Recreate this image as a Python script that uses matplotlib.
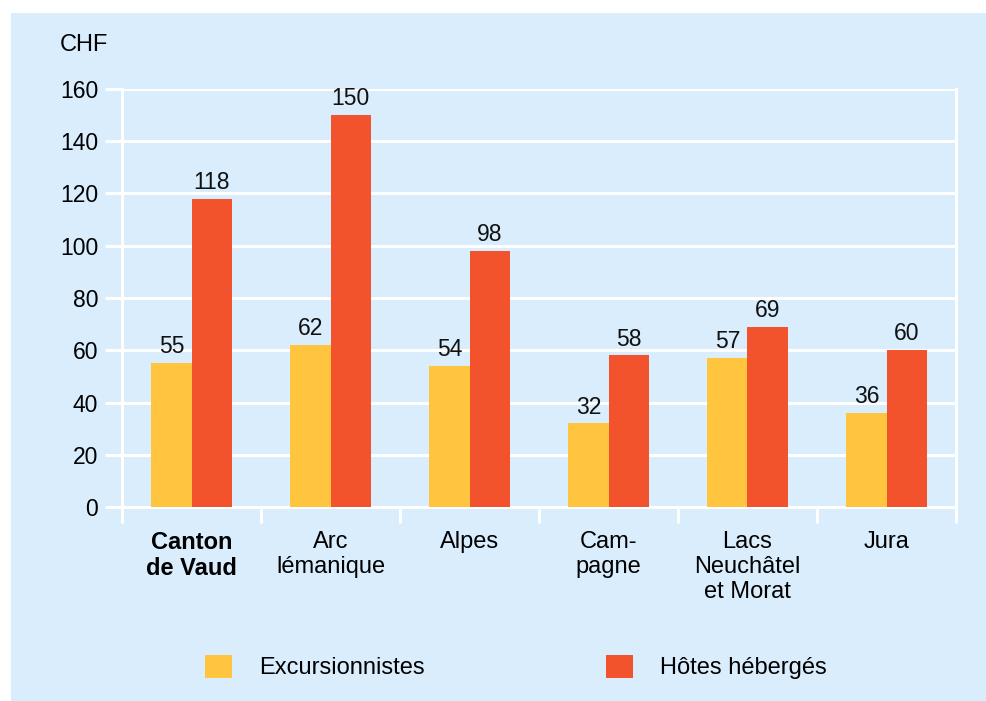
import matplotlib
matplotlib.use("Agg")
import matplotlib.pyplot as plt
import numpy as np
from matplotlib.patches import Rectangle, Patch

categories = ["Canton\nde Vaud", "Arc\nlémanique", "Alpes", "Cam-\npagne",
              "Lacs\nNeuchâtel\net Morat", "Jura"]
excursionnistes = [55, 62, 54, 32, 57, 36]
hotes = [118, 150, 98, 58, 69, 60]
series_names = ["Excursionnistes", "Hôtes hébergés"]
yticks = [0, 20, 40, 60, 80, 100, 120, 140, 160]

BG = "#D9EDFD"
YEL = "#FFC53F"
RED = "#F2522C"
FSN = 16.5
FST = 17

plt.rcParams['font.family'] = ['Liberation Sans', 'DejaVu Sans']

fig = plt.figure(figsize=(9.86, 7.01), dpi=100, facecolor="white")
fig.patches.append(Rectangle((11/986, 0), 1 - 11/986, 1 - 13/701,
                             transform=fig.transFigure, facecolor=BG,
                             edgecolor="none", zorder=-10))

ax = fig.add_axes([122/986, 1 - 507/701, 834/986, 418/701])
ax.set_facecolor(BG)

x = np.arange(len(categories))
w = 0.29
b1 = ax.bar(x - w/2, excursionnistes, w, color=YEL, zorder=3, label=series_names[0])
b2 = ax.bar(x + w/2, hotes, w, color=RED, zorder=3, label=series_names[1])

for bars, vals in ((b1, excursionnistes), (b2, hotes)):
    for rect, v in zip(bars, vals):
        ax.annotate(f"{v}", (rect.get_x() + rect.get_width()/2, v),
                    xytext=(0, 3.5), textcoords="offset points",
                    ha="center", va="bottom", fontsize=FSN, color="#111111")

ax.set_xlim(-0.5, len(categories) - 0.5)
ax.set_ylim(0, 160)
ax.set_yticks(yticks)
ax.yaxis.grid(True, color="white", linewidth=2.2, zorder=1)
ax.set_axisbelow(True)

# boundaries as major ticks, labels as minor ticks
ax.set_xticks(np.arange(-0.5, len(categories), 1.0))
ax.set_xticklabels([])
ax.set_xticks(x, minor=True)
ax.set_xticklabels(categories, minor=True, fontsize=FST, linespacing=1.2,
                   va="top")
ax.tick_params(axis="x", which="major", length=11.5, width=2.2, color="white")
ax.tick_params(axis="x", which="minor", length=0, pad=17)
ax.tick_params(axis="y", length=12.2, width=2.2, color="white", pad=5,
               labelsize=FSN)
ax.get_xticklabels(minor=True)[0].set_fontweight("bold")

for s in ["left", "right", "bottom", "top"]:
    ax.spines[s].set_color("white")
    ax.spines[s].set_linewidth(2.2)
ax.spines["top"].set_visible(False)

fig.text(60/986, 1 - 45/701, "CHF", fontsize=FST, ha="left", va="center")

handles = [Patch(facecolor=YEL, edgecolor="none"), Patch(facecolor=RED, edgecolor="none")]
fig.legend(handles, series_names, loc="center", bbox_to_anchor=(516/986, 1 - 667/701),
           ncol=2, frameon=False, fontsize=FST, handlelength=1.14, handleheight=1.14,
           handletextpad=1.14, columnspacing=7.7)

fig.savefig("out.png", dpi=100, facecolor="white")
